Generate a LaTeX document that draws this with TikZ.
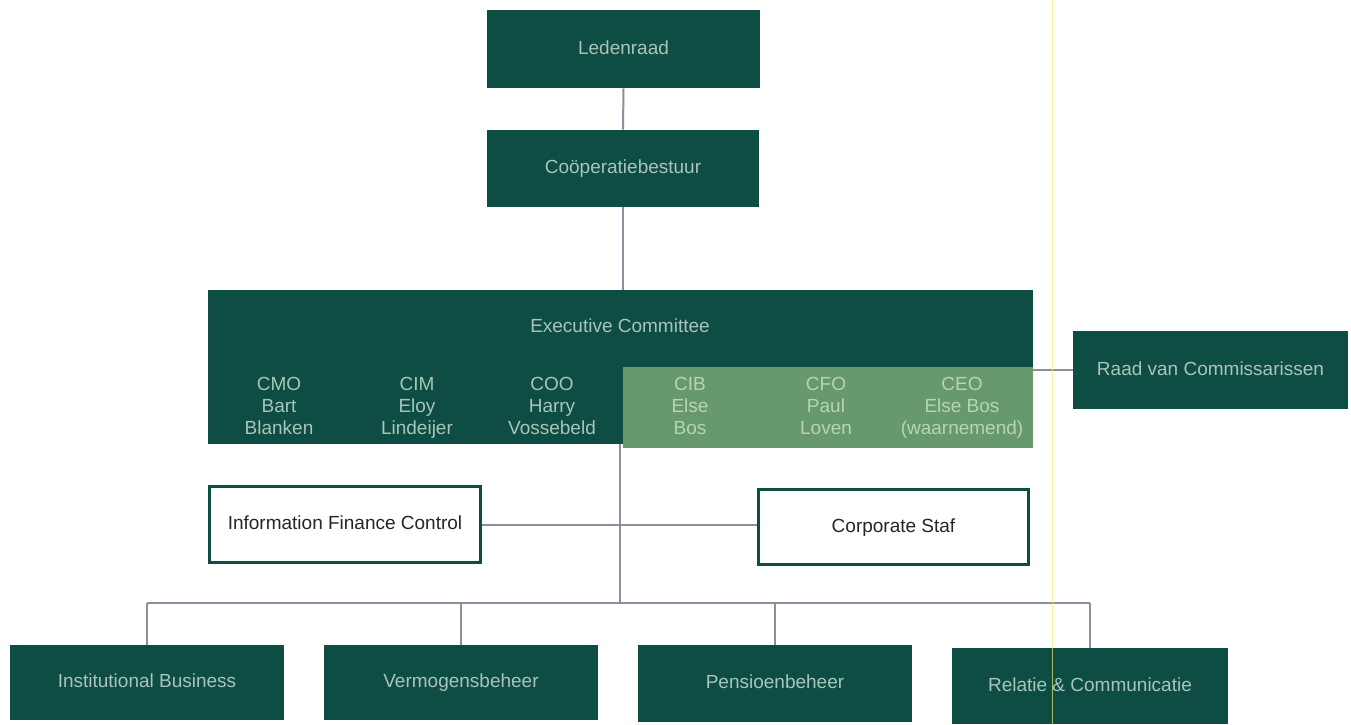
\documentclass[tikz,border=0pt]{standalone}
\usepackage{fontspec}
\setmainfont{Liberation Sans}
\begin{document}
\begin{tikzpicture}[x=0.5pt,y=-0.5pt,
  dk/.style={fill=dkgreen,draw=none,text=txtgreen,inner sep=0pt,text height=7pt,text depth=2pt,font=\fontsize{9.5}{11}\selectfont},
  wb/.style={fill=white,draw=dkgreen,line width=1.5pt,text=black!85,inner sep=0pt,text height=7pt,text depth=2pt,font=\fontsize{9.5}{11}\selectfont},
  mem/.style={align=center,inner sep=0pt,anchor=north,font=\fontsize{9.5}{11}\selectfont},
  conn/.style={draw=linegray,line width=1pt}]
\definecolor{dkgreen}{HTML}{0E4D43}
\definecolor{txtgreen}{HTML}{A9C4B8}
\definecolor{ltgreen}{HTML}{669A6C}
\definecolor{txtlight}{HTML}{B8D4B4}
\definecolor{linegray}{HTML}{8E8E9E}
\definecolor{ylw}{HTML}{F2EE70}
\useasboundingbox (0,0) rectangle (1351,724);
\fill[white] (0,0) rectangle (1351,724);
% nodes
\node[dk,minimum width=136.5pt,minimum height=39pt] (led) at (623.5,49) {Ledenraad};
\node[dk,minimum width=136pt,minimum height=38.5pt] (coop) at (623,168.5) {Coöperatiebestuur};
\node[dk,minimum width=412.5pt,minimum height=77pt] (exec) at (620.5,367) {};
\node[fill=ltgreen,inner sep=0pt,minimum width=205pt,minimum height=40.5pt] (cgrn) at (828,407.5) {};
\node[dk,fill=none] (exect) at (620,327) {Executive Committee};
\node[mem,text=txtgreen] (cmo) at (279,377) {CMO\\Bart\\Blanken};
\node[mem,text=txtgreen] (cim) at (417,377) {CIM\\Eloy\\Lindeijer};
\node[mem,text=txtgreen] (coo) at (552,377) {COO\\Harry\\Vossebeld};
\node[mem,text=txtlight] (cib) at (690,377) {CIB\\Else\\Bos};
\node[mem,text=txtlight] (cfo) at (826,377) {CFO\\Paul\\Loven};
\node[mem,text=txtlight] (ceo) at (962,377) {CEO\\Else Bos\\(waarnemend)};
\node[dk,minimum width=137.5pt,minimum height=39pt] (rvc) at (1210.5,370) {Raad van Commissarissen};
\node[wb,minimum width=135.5pt,minimum height=38pt] (ifc) at (345,524.5) {Information Finance Control};
\node[wb,minimum width=135pt,minimum height=37.5pt] (cs) at (893.5,527) {Corporate Staf};
\node[dk,minimum width=137pt,minimum height=37.5pt] (ib) at (147,682.5) {Institutional Business};
\node[dk,minimum width=137pt,minimum height=37.5pt] (vb) at (461,682.5) {Vermogensbeheer};
\node[dk,minimum width=137pt,minimum height=38.5pt] (pb) at (775,683.5) {Pensioenbeheer};
\node[dk,minimum width=138pt,minimum height=38pt] (rc) at (1090,686) {Relatie \& Communicatie};
\coordinate (execb) at (620,444);
\coordinate (bus) at (620,603);
% connectors
\draw[conn] (led.south) -- (coop.north);
\draw[conn] (coop.south) -- (coop.south |- exec.north);
\draw[conn] (execb) -- (bus);
\draw[conn] (ifc.east) -- (ifc.east -| cs.west);
\draw[conn] (rvc.west) -- (rvc.west -| exec.east);
\draw[conn] (ib.north |- bus) -- (rc.north |- bus);
\draw[conn] (ib.north |- bus) -- (ib.north);
\draw[conn] (vb.north |- bus) -- (vb.north);
\draw[conn] (pb.north |- bus) -- (pb.north);
\draw[conn] (rc.north |- bus) -- (rc.north);
% scan line
\draw[ylw,line width=0.5pt,opacity=0.7] (1052,0) -- (1052,724);
\end{tikzpicture}
\end{document}
